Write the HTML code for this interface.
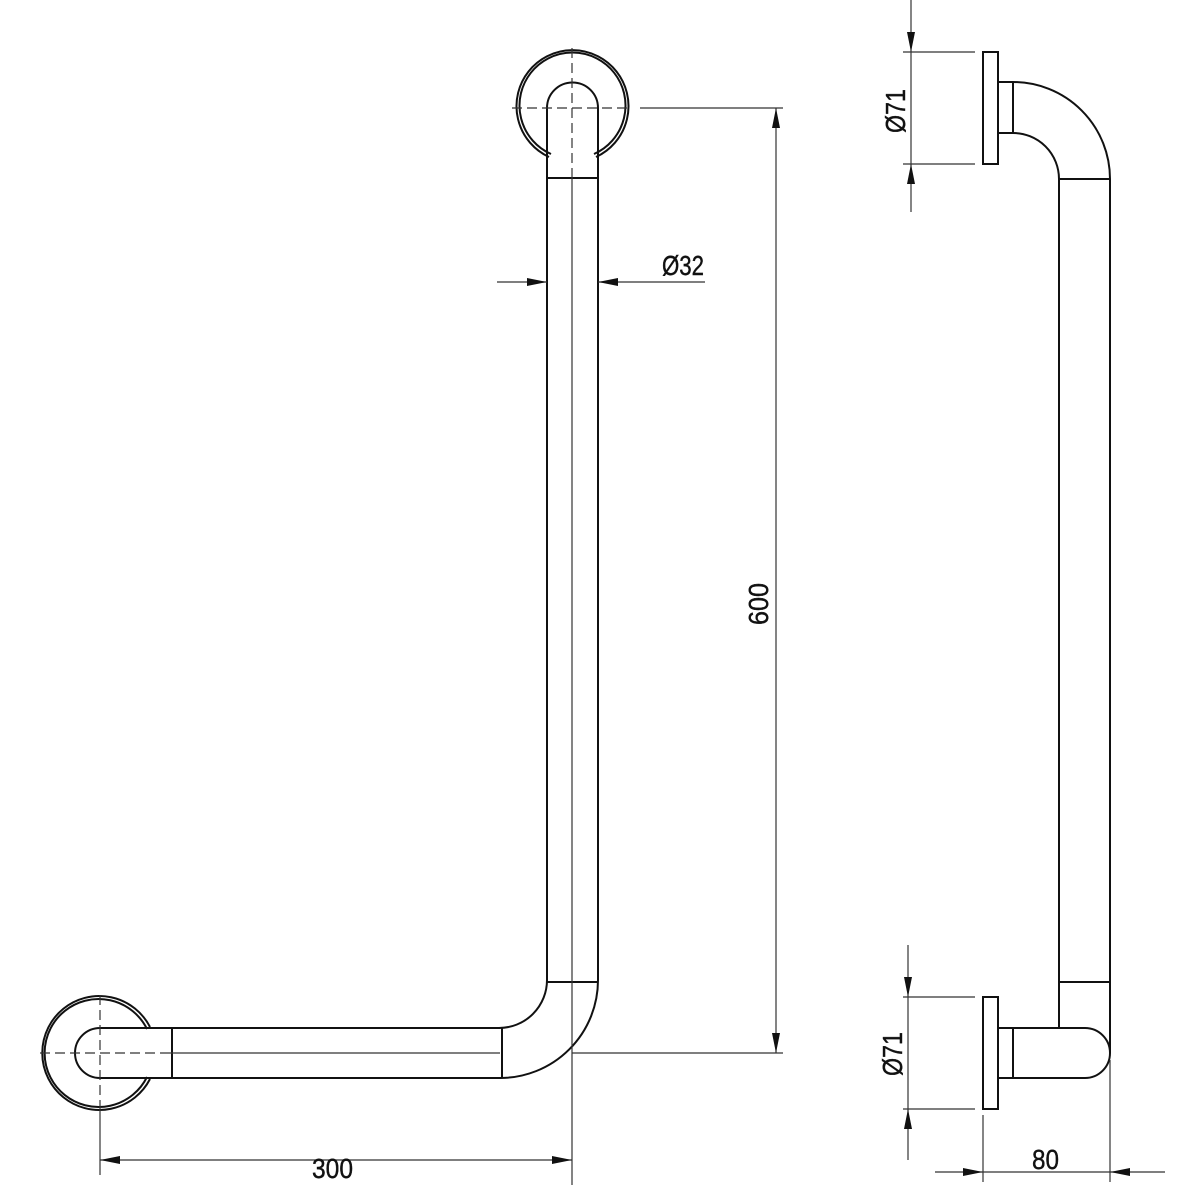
<!DOCTYPE html>
<html><head><style>html,body{margin:0;padding:0;background:#fff}svg{display:block}</style></head>
<body>
<svg width="1200" height="1200" viewBox="0 0 1200 1200" xmlns="http://www.w3.org/2000/svg">
<defs>
<marker id="a" viewBox="0 0 20 8" refX="20" refY="4" markerWidth="20" markerHeight="8" markerUnits="userSpaceOnUse" orient="auto"><path d="M0,0 L20,4 L0,8 Z" fill="#111"/></marker>
</defs>
<g fill="none" stroke="#111" stroke-width="2">
<path d="M549,157 A56,56 0 1 1 596,157"/>
<path d="M551,154 A53,53 0 1 1 594,154"/>
<path d="M547,980 L547,108 A25.5,25.5 0 0 1 598,108 L598,980"/>
<line x1="547" y1="178" x2="598" y2="178"/>
<line x1="547" y1="982" x2="598" y2="982"/>
<path d="M547,980 A48,48 0 0 1 499,1028"/>
<path d="M598,980 A98,98 0 0 1 500,1078"/>
<path d="M500,1028 L100,1028 A25,25 0 0 0 100,1078 L500,1078"/>
<line x1="502" y1="1028" x2="502" y2="1078"/>
<line x1="172" y1="1028" x2="172" y2="1078"/>
<path d="M150,1027 A57,57 0 1 0 150,1079"/>
<path d="M147,1029 A54,54 0 1 0 147,1077"/>
</g>
<g stroke="#333" stroke-width="1.2" fill="none">
<line x1="572" y1="48" x2="572" y2="170" stroke-dasharray="10,5"/>
<line x1="512" y1="108" x2="632" y2="108" stroke-dasharray="10,5"/>
<line x1="572" y1="170" x2="572" y2="1185"/>
<line x1="40" y1="1053" x2="160" y2="1053" stroke-dasharray="10,5"/>
<line x1="100" y1="995" x2="100" y2="1110" stroke-dasharray="10,5"/>
<line x1="160" y1="1053" x2="500" y2="1053"/>
<line x1="100" y1="1110" x2="100" y2="1175"/>
<line x1="640" y1="108" x2="783" y2="108"/>
<line x1="572" y1="1053" x2="783" y2="1053"/>
<line x1="776" y1="580" x2="776" y2="108" marker-end="url(#a)"/>
<line x1="776" y1="580" x2="776" y2="1053" marker-end="url(#a)"/>
<line x1="497" y1="282" x2="547" y2="282" marker-end="url(#a)"/>
<line x1="705" y1="282" x2="598" y2="282" marker-end="url(#a)"/>
<line x1="336" y1="1160" x2="100" y2="1160" marker-end="url(#a)"/>
<line x1="336" y1="1160" x2="572" y2="1160" marker-end="url(#a)"/>
</g>
<g fill="none" stroke="#111" stroke-width="2">
<rect x="983" y="52" width="15" height="112"/>
<line x1="998" y1="54" x2="998" y2="162"/>
<path d="M998,82 L1013,82 M998,133 L1013,133 M1013,82 L1013,133"/>
<path d="M1013,82 A97,97 0 0 1 1110,179 L1110,1053"/>
<path d="M1013,133 A46,46 0 0 1 1059,179 L1059,1028"/>
<line x1="1059" y1="179" x2="1110" y2="179"/>
<line x1="1059" y1="982" x2="1110" y2="982"/>
<rect x="983" y="997" width="15" height="112"/>
<path d="M998,1028 L1085,1028 A25,25 0 0 1 1085,1078 L998,1078 M1013,1028 L1013,1078"/>
</g>
<g stroke="#333" stroke-width="1.2" fill="none">
<line x1="903" y1="52" x2="975" y2="52"/>
<line x1="903" y1="164" x2="975" y2="164"/>
<line x1="911" y1="0" x2="911" y2="52" marker-end="url(#a)"/>
<line x1="911" y1="212" x2="911" y2="164" marker-end="url(#a)"/>
<line x1="911" y1="52" x2="911" y2="164"/>
<line x1="903" y1="997" x2="975" y2="997"/>
<line x1="903" y1="1109" x2="975" y2="1109"/>
<line x1="908" y1="945" x2="908" y2="997" marker-end="url(#a)"/>
<line x1="908" y1="1160" x2="908" y2="1109" marker-end="url(#a)"/>
<line x1="908" y1="997" x2="908" y2="1109"/>
<line x1="983" y1="1115" x2="983" y2="1182"/>
<line x1="1110" y1="1060" x2="1110" y2="1182"/>
<line x1="935" y1="1172" x2="983" y2="1172" marker-end="url(#a)"/>
<line x1="1165" y1="1172" x2="1110" y2="1172" marker-end="url(#a)"/>
<line x1="983" y1="1172" x2="1110" y2="1172"/>
</g>
<g font-family="'Liberation Sans Narrow','Liberation Sans',sans-serif" font-size="28" fill="#111" stroke="#111" stroke-width="0.4">
<text x="662" y="275" textLength="42" lengthAdjust="spacingAndGlyphs">Ø32</text>
<text x="312" y="1178" textLength="41" lengthAdjust="spacingAndGlyphs">300</text>
<text x="1032" y="1169" textLength="27" lengthAdjust="spacingAndGlyphs">80</text>
<text transform="translate(768,625) rotate(-90)" textLength="42" lengthAdjust="spacingAndGlyphs">600</text>
<text transform="translate(905,133) rotate(-90)" textLength="44" lengthAdjust="spacingAndGlyphs">Ø71</text>
<text transform="translate(902,1076) rotate(-90)" textLength="44" lengthAdjust="spacingAndGlyphs">Ø71</text>
</g>
</svg>
</body></html>
